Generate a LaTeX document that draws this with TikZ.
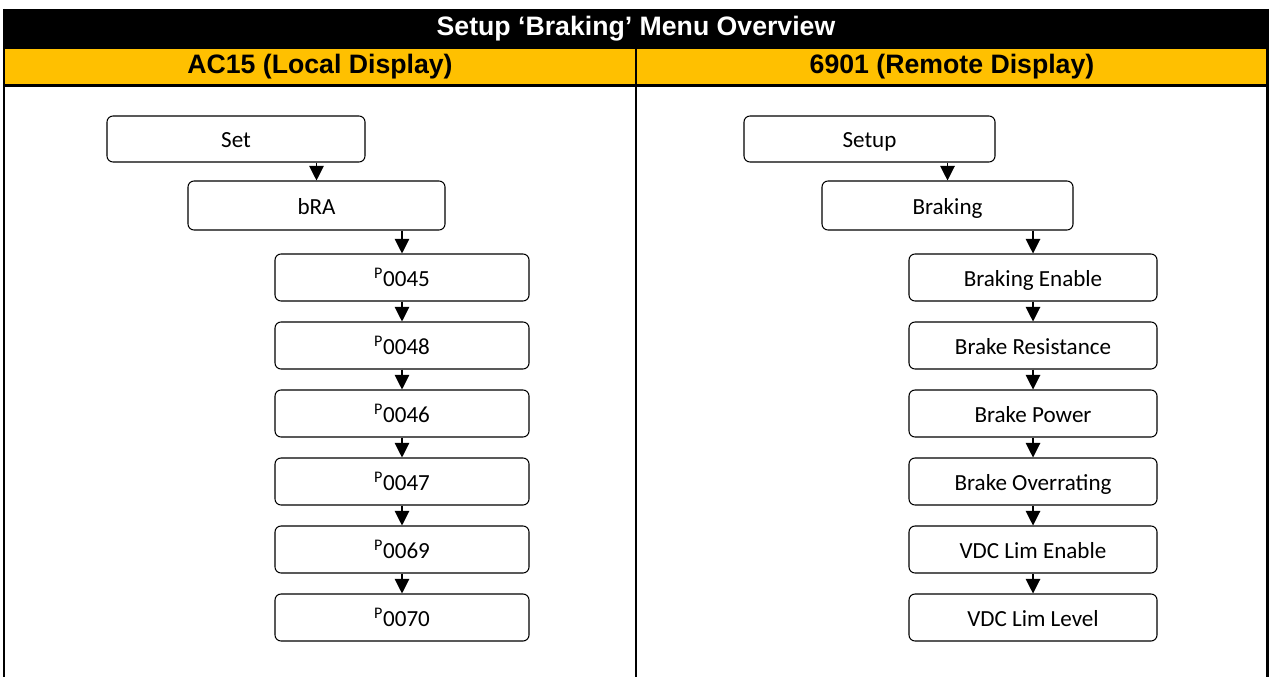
\documentclass[tikz,border=0pt]{standalone}
\usepackage{fontspec}
\setmainfont{Carlito}
\newfontfamily\headfont{Liberation Sans}
\usetikzlibrary{arrows.meta}
\definecolor{hdryellow}{HTML}{FFC000}
\tikzset{
  menubox/.style={draw, rounded corners=4.5pt, line width=0.8pt, inner sep=0pt,
    text height=16.4pt, text depth=3.1pt, font=\fontsize{17.3}{20}\selectfont},
  headtext/.style={font=\headfont\bfseries\fontsize{20}{24}\selectfont},
  nav/.style={-{Triangle[width=11pt,length=11pt]}, line width=0.8pt},
}

\begin{document}
\begin{tikzpicture}[x=0.75pt,y=-0.75pt]
\useasboundingbox (0,0) rectangle (1269,677);
% header rows
\fill (3,9) rectangle (1268.5,49);
\fill[hdryellow] (4,49) rectangle (1268,85);
\draw[line width=1.6pt] (4,9) -- (4,677) (1267.5,9) -- (1267.5,677)
  (636,49) -- (636,677) (4,85.5) -- (1268,85.5);
\node[headtext, text=white] (title) at (636,29) {Setup ‘Braking’ Menu Overview};
\node[headtext] (local) at (320,67) {AC15 (Local Display)};
\node[headtext] (remote) at (952,67) {6901 (Remote Display)};
% AC15 menu
\node[menubox, minimum width=193.5pt, minimum height=34.5pt] (set) at (236,139) {Set};
\node[menubox, minimum width=192.75pt, minimum height=36.75pt] (bra) at (316.5,205.5) {bRA};
\foreach \p [count=\k] in {0045,0048,0046,0047,0069,0070}{
  \pgfmathsetmacro{\yy}{277.5+68*(\k-1)}
  \node[menubox, minimum width=190.5pt, minimum height=35.25pt] (p\k) at (402,\yy) {\textsuperscript{P}\p};
}
\draw[nav] (set.south -| bra) -- (bra.north);
\draw[nav] (bra.south -| p1) -- (p1.north);
\foreach \k [count=\j from 2] in {1,...,5} \draw[nav] (p\k.south) -- (p\j.north);
% 6901 menu
\node[menubox, minimum width=188.25pt, minimum height=34.5pt] (setup) at (869.5,139) {Setup};
\node[menubox, minimum width=188.25pt, minimum height=36.75pt] (braking) at (947.5,205.5) {Braking};
\foreach \p [count=\k] in {Braking Enable,Brake Resistance,Brake Power,Brake Overrating,VDC Lim Enable,VDC Lim Level}{
  \pgfmathsetmacro{\yy}{277.5+68*(\k-1)}
  \node[menubox, minimum width=186pt, minimum height=35.25pt] (r\k) at (1033,\yy) {\p};
}
\draw[nav] (setup.south -| braking) -- (braking.north);
\draw[nav] (braking.south -| r1) -- (r1.north);
\foreach \k [count=\j from 2] in {1,...,5} \draw[nav] (r\k.south) -- (r\j.north);
\end{tikzpicture}
\end{document}
